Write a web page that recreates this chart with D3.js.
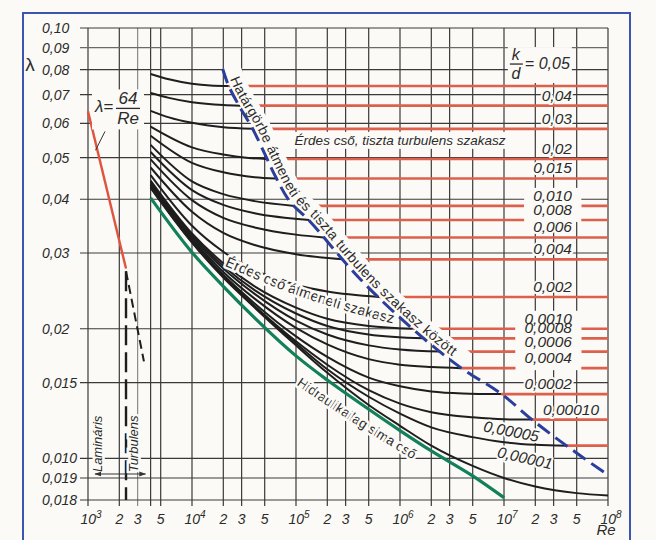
<!DOCTYPE html>
<html><head><meta charset="utf-8">
<script src="https://cdn.jsdelivr.net/npm/d3@7"></script>
<style>
html,body{margin:0;padding:0;background:#fbfaf6;}
svg{display:block;}
text{font-family:"Liberation Sans",Arial,sans-serif;fill:#2b2b2b;}
</style></head><body>
<svg id="c" width="656" height="540"></svg>
<script>
// ---------------- data ----------------
const xTicks = [1e3,2e3,3e3,5e3,1e4,2e4,3e4,5e4,1e5,2e5,3e5,5e5,1e6,2e6,3e6,5e6,1e7,2e7,3e7,5e7,1e8];
const xTickLabels = ["10^3","2","3","5","10^4","2","3","5","10^5","2","3","5","10^6","2","3","5","10^7","2","3","5","10^8"];
const extraGridRe = [4e3];
const yTicks = [0.10,0.09,0.08,0.07,0.06,0.05,0.04,0.03,0.02,0.015,0.010,0.009,0.008];
const yTickLabels = ["0,10","0,09","0,08","0,07","0,06","0,05","0,04","0,03","0,02","0,015","0,010","0,019","0,018"];

const roughness = ["0,05","0,04","0,03","0,02","0,015","0,010","0,008","0,006","0,004","0,002",
                   "0,0010","0,0008","0,0006","0,0004","0,0002","0,00010","0,00005","0,00001"];
// friction factor of the horizontal (fully rough) red lines
const roughLevel = [0.0733,0.0660,0.0583,0.0496,0.0447,0.0386,0.0358,0.0326,0.0290,0.0237,
                    0.0200,0.0190,0.0177,0.0162,0.0141,0.0123,0.0107,null];
// transition-zone curves [Re, lambda]
const roughCurves = [
 [[4e3,.0782],[6e3,.0760],[1e4,.0742],[1.5e4,.0735],[2.25e4,.0733]],
 [[4e3,.0706],[6e3,.0688],[1e4,.0672],[2e4,.0662],[2.9e4,.0660]],
 [[4e3,.0642],[6e3,.0620],[1e4,.0602],[2e4,.0588],[3.8e4,.0583]],
 [[4e3,.0590],[1e4,.0528],[2e4,.0508],[3.5e4,.0499],[5.2e4,.0496]],
 [[4e3,.0562],[1e4,.0486],[2e4,.0462],[4e4,.0450],[6.4e4,.0447]],
 [[4e3,.0535],[1e4,.0440],[2e4,.0411],[4e4,.0396],[9.7e4,.0386]],
 [[4e3,.0515],[1e4,.0420],[2e4,.0388],[4e4,.0371],[1.35e5,.0358]],
 [[4e3,.0495],[1e4,.0398],[2e4,.0362],[4e4,.0344],[1e5,.0331],[1.85e5,.0326]],
 [[4e3,.0474],[1e4,.0374],[2e4,.0334],[4e4,.0313],[1e5,.0298],[2.85e5,.0290]],
 [[4e3,.0455],[1e4,.0347],[2e4,.0302],[4e4,.0274],[1e5,.0253],[2e5,.0244],[6.3e5,.0237]],
 [[4e3,.0442],[1e4,.0333],[2e4,.0284],[4e4,.0251],[1e5,.0224],[2e5,.0211],[5e5,.0203],[1.32e6,.0200]],
 [[4e3,.0438],[1e4,.0330],[2e4,.0280],[4e4,.0246],[1e5,.0217],[2e5,.0203],[5e5,.0194],[1.71e6,.0190]],
 [[4e3,.0435],[1e4,.0327],[2e4,.0276],[4e4,.0241],[1e5,.0209],[2e5,.0194],[5e5,.0183],[1e6,.0179],[2.46e6,.0177]],
 [[4e3,.0432],[1e4,.0324],[2e4,.0271],[4e4,.0235],[1e5,.0201],[2e5,.0184],[5e5,.0170],[1e6,.0165],[2e6,.0163],[3.9e6,.0162]],
 [[4e3,.0429],[1e4,.0321],[2e4,.0267],[4e4,.0229],[1e5,.0192],[2e5,.0172],[5e5,.0154],[1e6,.0147],[2e6,.0143],[4e6,.01415],[9.4e6,.0141]],
 [[4e3,.0427],[1e4,.0319],[2e4,.0265],[4e4,.0226],[1e5,.0187],[2e5,.0165],[5e5,.0144],[1e6,.0134],[2e6,.0128],[5e6,.01245],[1e7,.01232],[1.87e7,.0123]],
 [[4e3,.0426],[1e4,.0318],[2e4,.0264],[4e4,.0225],[1e5,.0185],[2e5,.0161],[5e5,.0139],[1e6,.0127],[2e6,.0118],[5e6,.0112],[1e7,.0109],[2e7,.01075],[4e7,.0107]],
 [[4e3,.0425],[1e4,.0317],[2e4,.0263],[4e4,.0224],[1e5,.0183],[2e5,.0158],[5e5,.0133],[1e6,.0119],[2e6,.0107],[5e6,.0096],[1e7,.0090],[2e7,.0086],[5e7,.0083],[1e8,.0082]]
];
const smoothCurve = [[4e3,.0403],[1e4,.0301],[2e4,.0251],[4e4,.0212],[1e5,.0173],[2e5,.0152],[5e5,.0130],[1e6,.0116],[2e6,.0104],[5e6,.0091],[1e7,.0081]];
const laminar = [[1e3,0.064],[2320,0.0276]];
const transitionVertical = [[2320,0.0272],[2320,0.008]];
const transitionDiagonal = [[2320,0.0272],[3450,0.0168]];
const boundary = [[1.97e4,.0804],[2.25e4,.0734],[2.87e4,.0656],[3.83e4,.0583],[5.22e4,.0499],[6.37e4,.0451],
  [8.68e4,.0396],[1.35e5,.0356],[4.07e5,.0262],[1.315e6,.0200],[3.72e6,.01633],[9.4e6,.01412],
  [1.87e7,.01228],[4.04e7,.01067],[9.16e7,.00928]];

// ---------------- drawing ----------------
const W=656,H=540, bg="#fbfaf6";
const svg=d3.select("#c");
const x=d3.scaleLog().domain([1e3,1e8]).range([88,608]);
const y=d3.scaleLog().domain([0.008,0.1]).range([500,28]);
const line=d3.line().x(d=>x(d[0])).y(d=>y(d[1])).curve(d3.curveMonotoneX);
const cline=d3.line().x(d=>x(d[0])).y(d=>y(d[1])).curve(d3.curveCatmullRom);

svg.append("rect").attr("width",W).attr("height",H).attr("fill",bg);
svg.append("rect").attr("x",23).attr("y",13).attr("width",607).attr("height",560)
  .attr("fill","none").attr("stroke","#3d55b0").attr("stroke-width",2);

const defs=svg.append("defs");
defs.append("marker").attr("id","ah").attr("viewBox","0 0 10 10").attr("refX",9).attr("refY",5)
  .attr("markerWidth",7).attr("markerHeight",7).attr("orient","auto-start-reverse")
  .append("path").attr("d","M0,1.5L10,5L0,8.5Z").attr("fill","#333");

// grid
const gGrid=svg.append("g").attr("stroke","#3a3a3a").attr("stroke-width",1.2);
gGrid.selectAll("line.v").data(xTicks.concat(extraGridRe)).join("line")
  .attr("x1",d=>x(d)).attr("x2",d=>x(d)).attr("y1",y(0.1)).attr("y2",y(0.008)+6)
  .attr("stroke",d=>d===3e3?"#8a8a8a":null);
gGrid.selectAll("line.h").data(yTicks).join("line")
  .attr("x1",x(1e3)-8).attr("x2",x(1e8)).attr("y1",d=>y(d)).attr("y2",d=>y(d))
  .attr("stroke",d=>d===0.09?"#6a6a6a":null);

// axis labels
const gy=svg.append("g");
gy.selectAll("text").data(yTicks).join("text")
  .attr("x",42).attr("y",d=>y(d)+5).attr("font-size",14).attr("font-style","italic")
  .text((d,i)=>yTickLabels[i]);
svg.append("text").attr("x",30).attr("y",y(0.08)+1).attr("text-anchor","middle")
  .attr("font-size",19).text("λ");
const gx=svg.append("g");
xTicks.forEach((d,i)=>{
  const lab=xTickLabels[i];
  const t=gx.append("text").attr("x",x(d)+(lab.includes("^")?3:0)).attr("y",524)
    .attr("text-anchor","middle").attr("font-size",14).attr("font-style","italic");
  if(lab.includes("^")){
    const [b,e]=lab.split("^");
    t.append("tspan").text(b);
    t.append("tspan").attr("dy",-6).attr("font-size",10).text(e);
  } else t.text(lab);
});
svg.append("text").attr("x",x(1e8)-2).attr("y",535).attr("text-anchor","middle")
  .attr("font-size",15).attr("font-style","italic").text("Re");

// red fully-rough lines
const gRed=svg.append("g").attr("stroke","#dd604c").attr("stroke-width",2.6).attr("fill","none");
roughCurves.forEach((c,i)=>{
  if(roughLevel[i]==null) return;
  const last=c[c.length-1];
  gRed.append("path").attr("d",line([[last[0],roughLevel[i]],[1e8,roughLevel[i]]]));
});
// black transition curves
svg.append("g").attr("fill","none").attr("stroke","#1e1e1e").attr("stroke-width",2)
  .selectAll("path").data(roughCurves).join("path").attr("d",line);
// smooth pipe
svg.append("path").attr("d",line(smoothCurve)).attr("fill","none").attr("stroke","#12805a").attr("stroke-width",3.2);
// laminar
svg.append("path").attr("d",line(laminar)).attr("fill","none").attr("stroke","#e0533f").attr("stroke-width",2.4);
svg.append("path").attr("d",line(transitionVertical)).attr("fill","none").attr("stroke","#1e1e1e")
  .attr("stroke-width",2.4).attr("stroke-dasharray","20,7");
svg.append("path").attr("d",line(transitionDiagonal)).attr("fill","none").attr("stroke","#1e1e1e")
  .attr("stroke-width",2).attr("stroke-dasharray","9,5");

// boundary dashed line
const bpts=boundary.map(d=>[x(d[0]),y(d[1])]);
function offsetPts(pts,off){
  return pts.map((p,i)=>{
    const a=pts[Math.max(0,i-1)], b=pts[Math.min(pts.length-1,i+1)];
    let tx=b[0]-a[0], ty=b[1]-a[1]; const L=Math.hypot(tx,ty); tx/=L; ty/=L;
    return [p[0]+ty*off, p[1]-tx*off];
  });
}
const pline=d3.line().curve(d3.curveCatmullRom);
svg.append("path").attr("d",pline(offsetPts(bpts.slice(0,11),9.5))).attr("fill","none")
  .attr("stroke",bg).attr("stroke-width",17);
svg.append("path").attr("d",cline(boundary)).attr("fill","none").attr("stroke","#2b3e9b")
  .attr("stroke-width",3).attr("stroke-dasharray","15,7");
defs.append("path").attr("id","bpath").attr("d",pline(offsetPts(bpts,4)));
svg.append("text").attr("font-size",14)
  .append("textPath").attr("href","#bpath").attr("startOffset",12)
  .attr("textLength",360).attr("lengthAdjust","spacing")
  .text("Határgörbe átmeneti és tiszta turbulens szakasz között");

// path labels
function pathLabel(id,pts,txt,size,len){
  defs.append("path").attr("id",id).attr("d",cline(pts));
  const t=svg.append("text").attr("font-size",size).attr("stroke",bg).attr("stroke-width",5)
    .attr("paint-order","stroke").attr("stroke-linejoin","round");
  const tp=t.append("textPath").attr("href","#"+id).text(txt);
  if(len) tp.attr("textLength",len).attr("lengthAdjust","spacingAndGlyphs");
}
pathLabel("p1",[[2.06e4,.0280],[1.08e5,.0238],[9.9e5,.0204],[3e6,.0195]],"Érdes cső átmeneti szakasz",14.5,178);
pathLabel("p2",[[1.01e5,.0148],[3.27e5,.01225],[1.23e6,.01005],[3e6,.0088]],"Hidraulikailag sima cső",13.5,138);

// horizontal label
const rt=svg.append("text").attr("x",x(9.7e4)).attr("y",y(0.0583)+16)
  .attr("font-size",13.5).attr("font-style","italic").text("Érdes cső, tiszta turbulens szakasz");
const rb=rt.node().getBBox();
svg.insert("rect",()=>rt.node()).attr("x",rb.x-4).attr("y",rb.y-1).attr("width",rb.width+8).attr("height",rb.height+2).attr("fill",bg);

// lambda = 64/Re
const lx=x(1e3)+7, ly=y(0.064);
const lg=svg.append("g").attr("font-style","italic");
const lbox=lg.append("rect").attr("fill",bg);
lg.append("text").attr("x",lx).attr("y",ly+1).attr("font-size",17).text("λ=");
lg.append("text").attr("x",lx+33).attr("y",ly-7).attr("text-anchor","middle").attr("font-size",17).text("64");
lg.append("line").attr("x1",lx+21).attr("x2",lx+45).attr("y1",ly-3).attr("y2",ly-3).attr("stroke","#2b2b2b").attr("stroke-width",1.3);
lg.append("text").attr("x",lx+33).attr("y",ly+13).attr("text-anchor","middle").attr("font-size",17).text("Re");
lbox.attr("x",lx-3).attr("y",ly-22).attr("width",52).attr("height",40);
svg.append("line").attr("x1",x(1180)).attr("y1",y(64/1180)+8).attr("x2",lx+10).attr("y2",ly+20)
  .attr("stroke","#333").attr("stroke-width",1);

// lamináris / turbulens
function vlabel(xx,txt){
  svg.append("text").attr("transform",`translate(${xx},${y(0.0108)}) rotate(-90)`).attr("text-anchor","middle")
    .attr("font-size",13).attr("font-style","italic").attr("stroke",bg).attr("stroke-width",5)
    .attr("paint-order","stroke").text(txt);
}
vlabel(x(1.4e3)-1,"Lamináris");
vlabel(x(2.9e3)+2,"Turbulens");
svg.append("line").attr("x1",x(1e3)+7).attr("x2",x(4e3)-5).attr("y1",y(0.009)-4).attr("y2",y(0.009)-4)
  .attr("stroke","#333").attr("stroke-width",1).attr("marker-start","url(#ah)").attr("marker-end","url(#ah)");

// roughness labels
const boxed=new Set(["0,010","0,008","0,0010","0,0008","0,0006","0,0004"]);
const gBox=svg.append("g");
const gLab=svg.append("g");
roughness.forEach((lab,i)=>{
  const lev=roughLevel[i];
  if(i===0){
    const bx=x(1.3e7), by=y(lev)-20;
    const g=gLab.append("g").attr("font-style","italic").attr("font-size",16);
    const r=g.append("rect").attr("fill",bg);
    g.append("text").attr("x",bx).attr("y",by-6).attr("text-anchor","middle").text("k");
    g.append("line").attr("x1",bx-6).attr("x2",bx+7).attr("y1",by-2).attr("y2",by-2).attr("stroke","#2b2b2b").attr("stroke-width",1.3);
    g.append("text").attr("x",bx).attr("y",by+13).attr("text-anchor","middle").text("d");
    g.append("text").attr("x",bx+9).attr("y",by+3).text("= "+lab);
    r.attr("x",bx-8).attr("y",by-19).attr("width",64).attr("height",36);
    return;
  }
  let t;
  if(i===16){
    t=gLab.append("text").attr("transform",`translate(${x(1.15e7)},${y(lev)-9}) rotate(11)`).attr("text-anchor","middle");
  } else if(i===17){
    t=gLab.append("text").attr("transform",`translate(${x(1.55e7)},${y(0.0088)-19}) rotate(13)`).attr("text-anchor","middle");
  } else {
    const xe= i===15 ? x(8.2e7) : x(4.5e7);
    t=gLab.append("text").attr("x",xe).attr("y",y(lev)-5).attr("text-anchor","end");
  }
  t.attr("font-size",15.5).attr("font-style","italic").text(lab);
  if(boxed.has(lab)){
    const b=t.node().getBBox();
    gBox.append("rect").attr("x",b.x-9).attr("y",b.y+1).attr("width",b.width+18).attr("height",b.height+3).attr("fill",bg);
  } else {
    t.attr("stroke",bg).attr("stroke-width",4).attr("paint-order","stroke").attr("stroke-linejoin","round");
  }
});
</script>
</body></html>
